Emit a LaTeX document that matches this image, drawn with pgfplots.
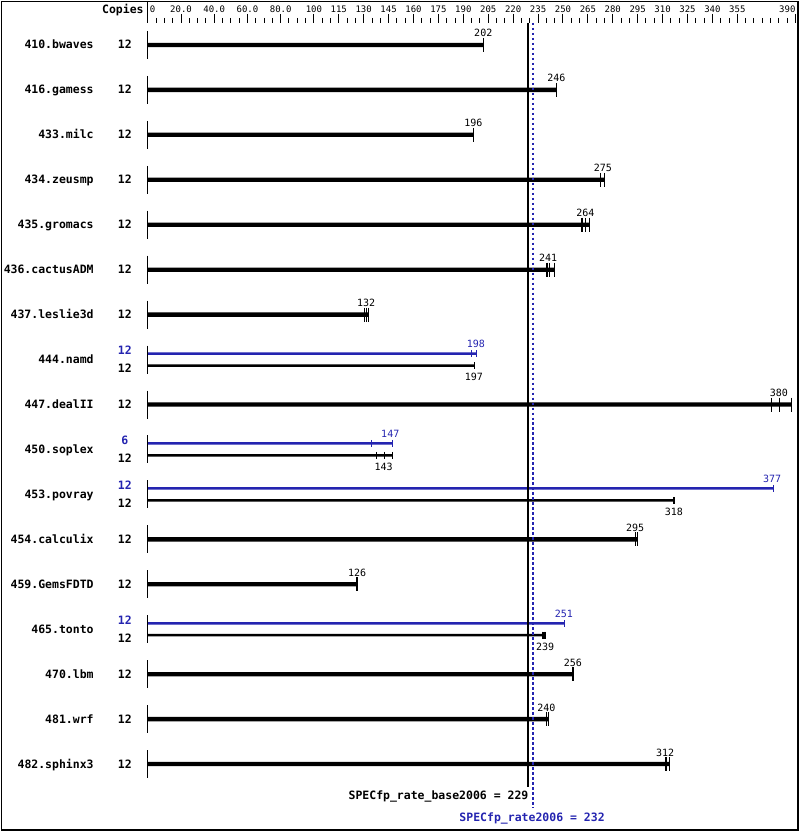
\documentclass[border=0pt]{standalone}
\usepackage{fontspec}
\setmainfont{DejaVu Sans Mono}
\usepackage{pgfplots}
\usepackage{pgfplotstable}
\pgfplotsset{compat=1.18}
\definecolor{peak}{RGB}{36,36,176}
\newcommand{\nm}{\fontsize{11.5}{12}\selectfont\bfseries}
\newcommand{\vl}{\fontsize{10}{11}\selectfont}
\newcommand{\rl}{\fontsize{9}{10}\selectfont}

% bar ends (largest run) of the single-bar rows, y = row position
\pgfplotstableread{
x y
202 44
246 89
196 134
274.8 179
266 224
245 269
133.1 314
387.8 404
295 539
126 584
256 674
241.2 719
314 764
}\thickbars
% individual runs, single-bar rows
\pgfplotstableread{
x y
202 44
246 89
196 134
272.5 179
274.8 179
261.5 224
263.8 224
266 224
240.4 269
241.8 269
245 269
130.7 314
131.9 314
133.1 314
375.7 404
380.3 404
387.8 404
293.8 539
295 539
126 584
256 674
240 719
241.2 719
312 764
314 764
}\thickruns
\pgfplotstableread{
x y lab
202 36 202
246 81 246
196 126 196
274 171 275
263.5 216 264
241 261 241
131.5 306 132
380 396 380
293.5 531 295
126 576 126
256 666 256
240 711 240
311.5 756 312
}\thicklabels
% base (black) thin bars of the rows with a peak result
\pgfplotstableread{
x y
196.9 365
147.2 455
317.4 500
239.6 635
}\basebars
\pgfplotstableread{
x y
196.9 365
137.7 455
142.7 455
147.2 455
316.6 500
317.4 500
237.8 635
238.6 635
239.6 635
}\baseruns
\pgfplotstableread{
x y lab
196.3 380 197
142 470 143
316.8 515 318
239.2 650 239
}\baselabels
% peak (blue) bars
\pgfplotstableread{
x y
198.1 353
147.2 443
376.7 488
251 623
}\peakbars
\pgfplotstableread{
x y
194.7 353
198.1 353
134.7 443
147.2 443
376.7 488
251 623
}\peakruns
\pgfplotstableread{
x y lab
197.5 347 198
146 437 147
376 482 377
250.6 617 251
}\peaklabels

\begin{document}
\begin{tikzpicture}
\begin{axis}[
  scale only axis, width=648.4pt, height=809pt,
  xmin=0, xmax=390, ymin=22, ymax=831, y dir=reverse,
  axis x line*=top, axis y line=none,
  x axis line style={draw=none},
  xtick={0,20,40,60,80,100,115,130,145,160,175,190,205,220,235,250,265,280,295,310,325,340,355,390},
  xticklabels={\makebox[0pt][l]{\hspace{2pt}0},20.0,40.0,60.0,80.0,100,115,130,145,160,175,190,205,220,235,250,265,280,295,310,325,340,355,\makebox[0pt][r]{390}},
  minor xtick={5,10,...,385},
  tick align=outside,
  major tick length=9pt, minor tick length=5pt,
  every tick/.style={black, line width=1pt},
  xticklabel style={font=\rl, anchor=base, inner sep=0pt, yshift=1.5pt},
  clip=false,
]
% frame and ruler edge
\path (axis cs:-88.42,0) rectangle (axis cs:392.18,831);
\draw[line width=1pt] (axis cs:-88.12,830) -- (axis cs:-88.12,0.5) -- (axis cs:391.6,0.5);
\draw[line width=2pt] (axis cs:391.6,0) -- (axis cs:391.6,830) -- (axis cs:-88.42,830);
\draw[line width=1pt] (axis cs:0,0) -- (axis cs:0,22);

% base lines at zero for each row
\addplot[only marks, mark=|, mark size=14pt, mark options={line width=1.3pt}] coordinates {
(0,44) (0,89) (0,134) (0,179) (0,224) (0,269) (0,314) (0,359) (0,404)
(0,449) (0,494) (0,539) (0,584) (0,629) (0,674) (0,719) (0,764)};

% bars
\addplot[xbar, bar width=4.3pt, bar shift=0pt, fill=black, draw=none] table[x=x,y=y] {\thickbars};
\addplot[xbar, bar width=2.5pt, bar shift=0pt, fill=black, draw=none] table[x=x,y=y] {\basebars};
\addplot[xbar, bar width=2.5pt, bar shift=0pt, fill=peak, draw=none] table[x=x,y=y] {\peakbars};

% run ticks
\addplot[only marks, mark=|, mark size=7pt, mark options={line width=1.2pt, black}] table[x=x,y=y] {\thickruns};
\addplot[only marks, mark=|, mark size=3.5pt, mark options={line width=1.2pt, black}] table[x=x,y=y] {\baseruns};
\addplot[only marks, mark=|, mark size=3.5pt, mark options={line width=1.2pt, peak}] table[x=x,y=y] {\peakruns};

% value labels
\addplot[draw=none, mark=none, nodes near coords, point meta=explicit symbolic,
  nodes near coords style={anchor=base, font=\vl, inner sep=0pt, text=black}]
  table[x=x,y=y,meta=lab] {\thicklabels};
\addplot[draw=none, mark=none, nodes near coords, point meta=explicit symbolic,
  nodes near coords style={anchor=base, font=\vl, inner sep=0pt, text=black}]
  table[x=x,y=y,meta=lab] {\baselabels};
\addplot[draw=none, mark=none, nodes near coords, point meta=explicit symbolic,
  nodes near coords style={anchor=base, font=\vl, inner sep=0pt, text=peak}]
  table[x=x,y=y,meta=lab] {\peaklabels};

% overall results
\addplot[black, line width=2.5pt] coordinates {(229,22) (229,787)};
\addplot[peak, line width=2pt, dash pattern=on 2.5pt off 2.5pt] coordinates {(232,22) (232,808)};
\node[anchor=base east, font=\nm, inner sep=0pt] at (axis cs:229.3,799) {SPECfp\_rate\_base2006 = 229};
\node[anchor=base, font=\nm, inner sep=0pt, text=peak] at (axis cs:231.4,821) {SPECfp\_rate2006 = 232};

% header, names and copies
\node[anchor=base east, font=\nm, inner sep=0pt] at (axis cs:-2.4,13) {Copies};
\node[anchor=base east, font=\nm, inner sep=0pt] at (axis cs:-32.5,48) {410.bwaves};
\node[anchor=base east, font=\nm, inner sep=0pt] at (axis cs:-32.5,93) {416.gamess};
\node[anchor=base east, font=\nm, inner sep=0pt] at (axis cs:-32.5,138) {433.milc};
\node[anchor=base east, font=\nm, inner sep=0pt] at (axis cs:-32.5,183) {434.zeusmp};
\node[anchor=base east, font=\nm, inner sep=0pt] at (axis cs:-32.5,228) {435.gromacs};
\node[anchor=base east, font=\nm, inner sep=0pt] at (axis cs:-32.5,273) {436.cactusADM};
\node[anchor=base east, font=\nm, inner sep=0pt] at (axis cs:-32.5,318) {437.leslie3d};
\node[anchor=base east, font=\nm, inner sep=0pt] at (axis cs:-32.5,363) {444.namd};
\node[anchor=base east, font=\nm, inner sep=0pt] at (axis cs:-32.5,408) {447.dealII};
\node[anchor=base east, font=\nm, inner sep=0pt] at (axis cs:-32.5,453) {450.soplex};
\node[anchor=base east, font=\nm, inner sep=0pt] at (axis cs:-32.5,498) {453.povray};
\node[anchor=base east, font=\nm, inner sep=0pt] at (axis cs:-32.5,543) {454.calculix};
\node[anchor=base east, font=\nm, inner sep=0pt] at (axis cs:-32.5,588) {459.GemsFDTD};
\node[anchor=base east, font=\nm, inner sep=0pt] at (axis cs:-32.5,633) {465.tonto};
\node[anchor=base east, font=\nm, inner sep=0pt] at (axis cs:-32.5,678) {470.lbm};
\node[anchor=base east, font=\nm, inner sep=0pt] at (axis cs:-32.5,723) {481.wrf};
\node[anchor=base east, font=\nm, inner sep=0pt] at (axis cs:-32.5,768) {482.sphinx3};
% copies, single rows
\node[anchor=base, font=\nm, inner sep=0pt] at (axis cs:-13.8,48) {12};
\node[anchor=base, font=\nm, inner sep=0pt] at (axis cs:-13.8,93) {12};
\node[anchor=base, font=\nm, inner sep=0pt] at (axis cs:-13.8,138) {12};
\node[anchor=base, font=\nm, inner sep=0pt] at (axis cs:-13.8,183) {12};
\node[anchor=base, font=\nm, inner sep=0pt] at (axis cs:-13.8,228) {12};
\node[anchor=base, font=\nm, inner sep=0pt] at (axis cs:-13.8,273) {12};
\node[anchor=base, font=\nm, inner sep=0pt] at (axis cs:-13.8,318) {12};
\node[anchor=base, font=\nm, inner sep=0pt] at (axis cs:-13.8,408) {12};
\node[anchor=base, font=\nm, inner sep=0pt] at (axis cs:-13.8,543) {12};
\node[anchor=base, font=\nm, inner sep=0pt] at (axis cs:-13.8,588) {12};
\node[anchor=base, font=\nm, inner sep=0pt] at (axis cs:-13.8,678) {12};
\node[anchor=base, font=\nm, inner sep=0pt] at (axis cs:-13.8,723) {12};
\node[anchor=base, font=\nm, inner sep=0pt] at (axis cs:-13.8,768) {12};
% copies, rows with peak and base
\node[anchor=base, font=\nm, inner sep=0pt, text=peak] at (axis cs:-13.8,354) {12};
\node[anchor=base, font=\nm, inner sep=0pt] at (axis cs:-13.8,372) {12};
\node[anchor=base, font=\nm, inner sep=0pt, text=peak] at (axis cs:-13.8,444) {6};
\node[anchor=base, font=\nm, inner sep=0pt] at (axis cs:-13.8,462) {12};
\node[anchor=base, font=\nm, inner sep=0pt, text=peak] at (axis cs:-13.8,489) {12};
\node[anchor=base, font=\nm, inner sep=0pt] at (axis cs:-13.8,507) {12};
\node[anchor=base, font=\nm, inner sep=0pt, text=peak] at (axis cs:-13.8,624) {12};
\node[anchor=base, font=\nm, inner sep=0pt] at (axis cs:-13.8,642) {12};
\end{axis}
\end{tikzpicture}
\end{document}
